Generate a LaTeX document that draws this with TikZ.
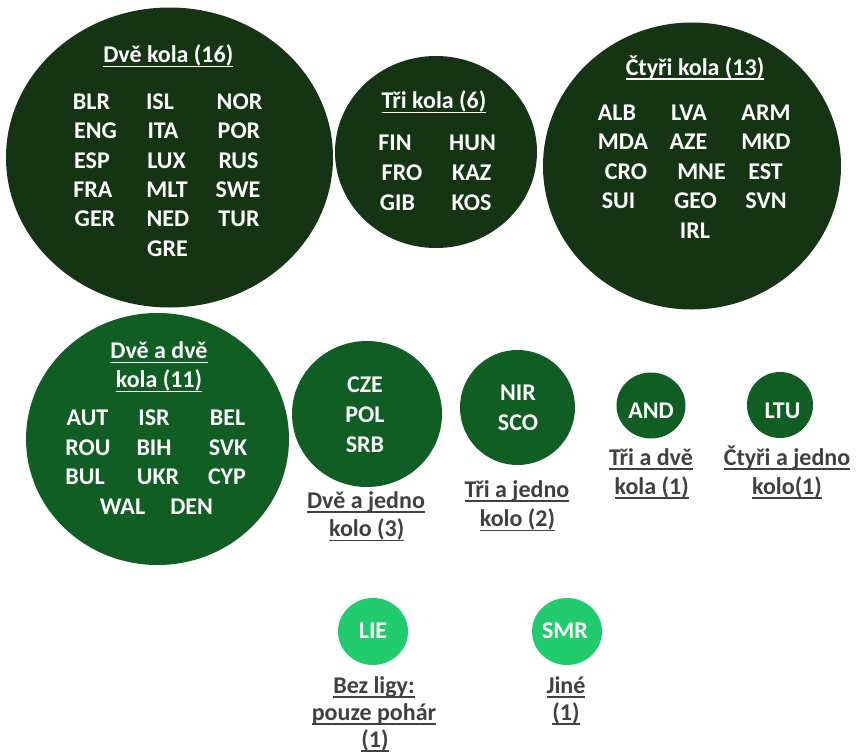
\documentclass[tikz,border=0pt]{standalone}
\usepackage{fontspec}
\setmainfont{Carlito}
\definecolor{bubdark}{RGB}{20,52,20}
\definecolor{bubmid}{RGB}{16,94,36}
\definecolor{bublight}{RGB}{34,204,110}
\definecolor{capgray}{RGB}{64,64,64}
% underline drawn as a rule just under the baseline
\newcommand\ulbar[1]{\sbox0{#1}\rlap{\rule[-4.6pt]{\wd0}{1.5pt}}\usebox0}
\begin{document}
\begin{tikzpicture}[x=1pt,y=-1pt,
  every node/.style={inner sep=0pt,outer sep=0pt},
  code/.style={font=\bfseries\fontsize{24}{28}\selectfont,text=white,anchor=base},
  caption/.style={code,text=capgray}]
\useasboundingbox (0,0) rectangle (857,755);

% bubbles
\fill[bubdark]  (169.5,157.5) ellipse [x radius=163.5pt,y radius=150pt];
\fill[bubdark]  (436,152)     ellipse [x radius=101pt,y radius=96pt];
\fill[bubdark]  (692,166)     ellipse [x radius=149pt,y radius=143.5pt];
\fill[bubmid]   (157.5,439)   ellipse [x radius=131.5pt,y radius=126pt];
\fill[bubmid]   (367,414)     ellipse [x radius=75pt,y radius=73pt];
\fill[bubmid]   (517.5,407.5) ellipse [x radius=57.5pt,y radius=57.5pt];
\fill[bubmid]   (651,405.5)   ellipse [x radius=34.5pt,y radius=33pt];
\fill[bubmid]   (780,405)     ellipse [x radius=33pt,y radius=33pt];
\fill[bublight] (373,631.5)   ellipse [x radius=35pt,y radius=33.5pt];
\fill[bublight] (567,631.5)   ellipse [x radius=35pt,y radius=33.5pt];

% bubble titles
\node[code] (t-two)   at (168.3,62.5) {\ulbar{Dvě kola (16)}};
\node[code] (t-three) at (434,108.5)  {\ulbar{Tři kola (6)}};
\node[code] (t-four)  at (695,75)     {\ulbar{Čtyři kola (13)}};
\node[code] (t-tt-1)  at (159,358.5)  {\ulbar{Dvě a dvě}};
\node[code] (t-tt-2)  at (159,387.5)  {\ulbar{kola (11)}};

% association codes
\foreach \n/\x/\y in {
  BLR/91.5/109.5, ENG/95.5/138.8, ESP/92/168.1, FRA/93/197.4, GER/95/226.7,
  ISL/160/109.5, ITA/163/138.8, LUX/166.5/168.1, MLT/167/197.4, NED/168/226.7, GRE/167.5/256,
  NOR/239.5/109.5, POR/239/138.8, RUS/238.5/168.1, SWE/238/197.4, TUR/239/226.7,
  FIN/395/150, FRO/402/180, GIB/397.5/210,
  HUN/472.5/150, KAZ/471.7/180, KOS/471.5/210,
  ALB/617/120, MDA/623/149.5, CRO/626/179, SUI/618.5/208.5,
  LVA/689/120, AZE/688.5/149.5, MNE/701.5/179, GEO/695.5/208.5, IRL/695/238,
  ARM/766/120, MKD/766/149.5, EST/765.5/179, SVN/766/208.5,
  AUT/87.5/425, ROU/88/455, BUL/85/484.5,
  ISR/154/425, BIH/154/455, UKR/158/484.5,
  BEL/227.5/425, SVK/228/455, CYP/227/484.5,
  WAL/122.5/514, DEN/191.7/514,
  CZE/365/392.5, POL/365/422.5, SRB/365/452,
  NIR/518/400.7, SCO/518/430,
  AND/651/418.3, LTU/782.5/418.3,
  LIE/373/638.3, SMR/565/638.3}
  \node[code] (\n) at (\x,\y) {\n};

% captions below the small bubbles
\node[caption] (c-dj-1) at (366,508.3)   {\ulbar{Dvě a jedno}};
\node[caption] (c-dj-2) at (366.7,536.7) {\ulbar{kolo (3)}};
\node[caption] (c-tj-1) at (517,497.3)   {\ulbar{Tři a jedno}};
\node[caption] (c-tj-2) at (517.5,526.7) {\ulbar{kolo (2)}};
\node[caption] (c-td-1) at (651,465)     {\ulbar{Tři a dvě}};
\node[caption] (c-td-2) at (651.7,494)   {\ulbar{kola (1)}};
\node[caption] (c-cj-1) at (787,465)     {\ulbar{Čtyři a jedno}};
\node[caption] (c-cj-2) at (787,494)     {\ulbar{kolo(1)}};
\node[caption] (c-bl-1) at (374,693.3)   {\ulbar{Bez ligy:}};
\node[caption] (c-bl-2) at (374,720.3)   {\ulbar{pouze pohár}};
\node[caption] (c-bl-3) at (375,747)     {\ulbar{(1)}};
\node[caption] (c-ji-1) at (566,693.3)   {\ulbar{Jiné}};
\node[caption] (c-ji-2) at (566,720.3)   {\ulbar{(1)}};
\end{tikzpicture}
\end{document}
